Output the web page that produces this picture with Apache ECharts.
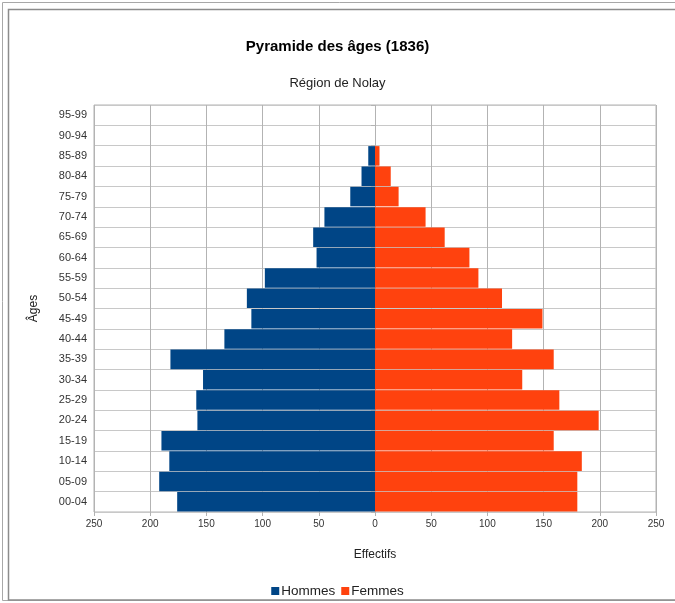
<!DOCTYPE html>
<html>
<head>
<meta charset="utf-8">
<title>Pyramide des âges (1836)</title>
<script src="https://cdn.jsdelivr.net/npm/echarts@6/dist/echarts.min.js"></script>
<style>
  html, body { margin: 0; padding: 0; background: #ffffff; }
  #chart { width: 675px; height: 603px; }
</style>
</head>
<body>
<div id="chart"></div>
<script>
// Age groups, youngest first (drawn bottom to top)
const ageGroups = ['00-04', '05-09', '10-14', '15-19', '20-24', '25-29', '30-34', '35-39',
  '40-44', '45-49', '50-54', '55-59', '60-64', '65-69', '70-74', '75-79', '80-84',
  '85-89', '90-94', '95-99'];

// Head counts per age group
const hommes = [176, 192, 183, 190, 158, 159, 153, 182, 134, 110, 114, 98, 52, 55, 45, 22, 12, 6, 0, 0];
const femmes = [180, 180, 184, 159, 199, 164, 131, 159, 122, 149, 113, 92, 84, 62, 45, 21, 14, 4, 0, 0];

// Value axis ticks
const xTicks = { min: -250, max: 250, step: 50 };

const FONT = '"Liberation Sans", Arial, sans-serif';
const chart = echarts.init(document.getElementById('chart'), null, { renderer: 'canvas' });

chart.setOption({
  backgroundColor: '#ffffff',
  animation: false,
  textStyle: { fontFamily: FONT },
  graphic: [
    { type: 'rect', shape: { x: 2.5, y: 2.5, width: 700, height: 598 },
      style: { fill: 'none', stroke: '#a8a8a8', lineWidth: 1 }, silent: true },
    { type: 'rect', shape: { x: 8.5, y: 9.5, width: 700, height: 590.5 },
      style: { fill: 'none', stroke: '#8c8c8c', lineWidth: 1.5 }, silent: true }
  ],
  title: [
    { text: 'Pyramide des âges (1836)', left: 'center', top: 34,
      textStyle: { fontFamily: FONT, fontSize: 15, fontWeight: 'bold', color: '#000000' } },
    { text: 'Région de Nolay', left: 'center', top: 72,
      textStyle: { fontFamily: FONT, fontSize: 13, fontWeight: 'normal', color: '#222222' } }
  ],
  legend: {
    bottom: 0,
    left: 'center',
    itemWidth: 8,
    itemHeight: 8,
    itemGap: 6,
    icon: 'rect',
    textStyle: { fontFamily: FONT, fontSize: 13.5, color: '#222222', padding: [0, 0, 0, -3] },
    data: ['Hommes', 'Femmes']
  },
  grid: {
    left: 94, right: 19, top: 105, bottom: 91,
    show: true, borderColor: '#b3b3b3', borderWidth: 1,
    containLabel: false
  },
  xAxis: {
    type: 'value',
    min: xTicks.min, max: xTicks.max, interval: xTicks.step,
    name: 'Effectifs',
    nameLocation: 'middle',
    nameGap: 37,
    nameTextStyle: { fontFamily: FONT, fontSize: 12, color: '#222222' },
    axisLine: { show: false },
    axisTick: { show: true, length: 4, lineStyle: { color: '#b3b3b3' } },
    axisLabel: { fontFamily: FONT, fontSize: 10, color: '#333333', margin: 7,
      formatter: v => String(Math.abs(v)) },
    splitLine: { show: true, lineStyle: { color: '#b3b3b3', width: 1 } }
  },
  yAxis: {
    type: 'category',
    data: ageGroups,
    name: 'Âges',
    nameLocation: 'middle',
    nameGap: 54,
    nameRotate: 90,
    nameTextStyle: { fontFamily: FONT, fontSize: 12, color: '#222222' },
    axisLine: { show: false },
    axisTick: { show: true, length: 4, lineStyle: { color: '#b3b3b3' } },
    axisLabel: { fontFamily: FONT, fontSize: 11, color: '#333333', margin: 7 },
    splitLine: { show: true, lineStyle: { color: '#c8c8c8', width: 1 } }
  },
  series: [
    {
      name: 'Hommes',
      type: 'bar',
      stack: 'pyramide',
      barCategoryGap: '4%',
      itemStyle: { color: '#004586' },
      data: hommes.map(v => -v)
    },
    {
      name: 'Femmes',
      type: 'bar',
      stack: 'pyramide',
      barCategoryGap: '4%',
      itemStyle: { color: '#ff420e' },
      data: femmes
    }
  ]
});
</script>
</body>
</html>
